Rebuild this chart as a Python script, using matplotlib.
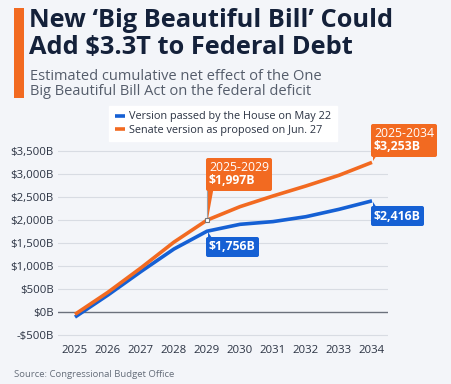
import matplotlib.pyplot as plt
from matplotlib.offsetbox import TextArea, VPacker, AnnotationBbox
from matplotlib.patches import Rectangle, Polygon
from matplotlib.transforms import Affine2D, ScaledTranslation

plt.rcParams['font.family'] = ['Open Sans', 'DejaVu Sans']

# --- data ---
anos = [2025, 2026, 2027, 2028, 2029, 2030, 2031, 2032, 2033, 2034]
camara = [-110, 370, 880, 1370, 1756, 1906, 1965, 2072, 2232, 2416]
senado = [-50, 430, 960, 1520, 1997, 2290, 2522, 2740, 2972, 3253]
yticks = [-500, 0, 500, 1000, 1500, 2000, 2500, 3000, 3500]
nome_camara = 'Version passed by the House on May 22'
nome_senado = 'Senate version as proposed on Jun. 27'

laranja = '#f26a21'
azul = '#1560d4'
fundo = '#f3f5f9'
escuro = '#14213a'

W, H = 451, 384
fig = plt.figure(figsize=(W / 100, H / 100), dpi=100, facecolor=fundo)

# barra laranja e titulos
fig.add_artist(Rectangle((14 / W, 1 - 98 / H), 10 / W, 90 / H, transform=fig.transFigure,
                         color=laranja, lw=0))
fig.text(29 / W, 1 - 27 / H, "New \u2018Big Beautiful Bill\u2019 Could", fontsize=18.3,
         fontweight='bold', color=escuro, va='baseline')
fig.text(29 / W, 1 - 54 / H, "Add $3.3T to Federal Debt", fontsize=18.3,
         fontweight='bold', color=escuro, va='baseline')
fig.text(30 / W, 1 - 80 / H, "Estimated cumulative net effect of the One", fontsize=10.5,
         color='#555d6b', va='baseline')
fig.text(30 / W, 1 - 95 / H, "Big Beautiful Bill Act on the federal deficit", fontsize=10.5,
         color='#555d6b', va='baseline')
fig.text(14 / W, 1 - 377 / H, "Source: Congressional Budget Office", fontsize=6.8,
         color='#666e7a', va='baseline')

ax = fig.add_axes([58 / W, 1 - 339.6 / H, 330 / W, 193.2 / H])
ax.set_facecolor(fundo)
ax.set_xlim(2024.485, 2034.485)
ax.set_ylim(-600, 3600)
ax.set_yticks(yticks)
ax.set_yticklabels([f'-${-v:,}B' if v < 0 else f'${v:,}B' for v in yticks])
ax.set_xticks(anos)
ax.tick_params(length=0, labelsize=8.2, labelcolor='#2b3343')
ax.tick_params(axis='y', pad=3)
ax.tick_params(axis='x', pad=4)
for s in ax.spines.values():
    s.set_visible(False)
for v in yticks:
    ax.axhline(v, color='#6b717c' if v == 0 else '#d8dce3', lw=1.0 if v == 0 else 0.8, zorder=0)

ax.plot(anos, camara, color=azul, lw=2.6, solid_capstyle='butt', label=nome_camara, zorder=3)
ax.plot(anos, senado, color=laranja, lw=2.6, solid_capstyle='butt', label=nome_senado, zorder=3)

leg = ax.legend(loc='lower center', bbox_to_anchor=(0.5, 1.0), frameon=True, fontsize=7.8,
                handlelength=0.9, handletextpad=0.4, borderpad=0.5, labelspacing=0.2,
                fancybox=False, edgecolor='white', facecolor='white', framealpha=1)
for t in leg.get_texts():
    t.set_color('#2b3343')


def caixa(x, y, linhas, cor, dy, acima):
    filhos = []
    for txt, peso in linhas:
        filhos.append(TextArea(txt, textprops=dict(color='white', fontsize=8.8, fontweight=peso)))
    pack = VPacker(children=filhos, align='left', pad=0, sep=0)
    ab = AnnotationBbox(pack, (x, y), xycoords='data', xybox=(2, dy if acima else -dy),
                        boxcoords='offset pixels', box_alignment=(0, 0) if acima else (0, 1),
                        frameon=True, pad=0.25,
                        bboxprops=dict(facecolor=cor, edgecolor='none',
                                       boxstyle='round,pad=0.25,rounding_size=0.15'))
    ab.set_zorder(5)
    ax.add_artist(ab)
    # rabicho
    sinal = 1 if acima else -1
    tr = Affine2D() + ScaledTranslation(x, y, ax.transData)
    cauda = Polygon([(1, sinal * 1), (1, sinal * (dy + 1)), (7, sinal * (dy + 1))], closed=True,
                    facecolor=cor, edgecolor='none', transform=tr, zorder=5)
    ax.add_patch(cauda)


# anotacoes
i29 = anos.index(2029)
ax.plot([anos[i29]], [senado[i29]], marker='s', ms=3.5,
        mfc='white', mec='#777', mew=0.8, zorder=6)
tr = Affine2D() + ScaledTranslation(anos[i29], senado[i29], ax.transData)
ax.plot([0, 0], [2, 33], color='#9aa0a8', lw=0.8, transform=tr, zorder=4)
caixa(anos[i29], senado[i29], [('2025-2029', 'normal'), (f'${senado[i29]:,}B', 'bold')],
      laranja, 33, True)
caixa(anos[-1], senado[-1], [('2025-2034', 'normal'), (f'${senado[-1]:,}B', 'bold')],
      laranja, 9, True)
caixa(anos[i29], camara[i29], [(f'${camara[i29]:,}B', 'bold')], azul, 9, False)
caixa(anos[-1], camara[-1], [(f'${camara[-1]:,}B', 'bold')], azul, 9, False)

fig.savefig('out.png', dpi=100, facecolor=fundo)
